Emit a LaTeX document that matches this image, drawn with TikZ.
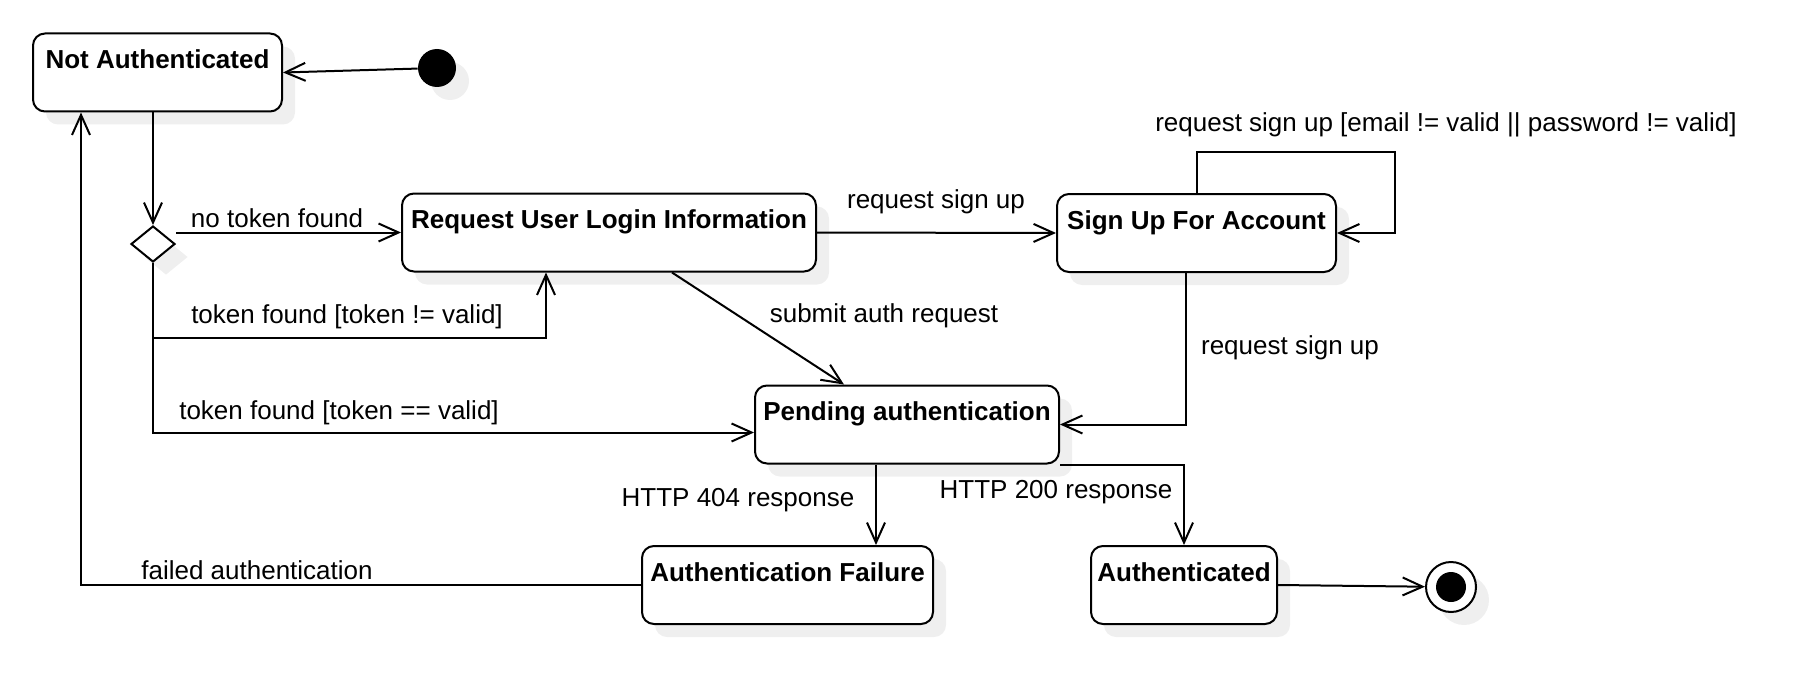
\documentclass[tikz,border=0pt]{standalone}
\usepackage{fontspec}
\setmainfont{Liberation Sans}
\usetikzlibrary{arrows.meta,positioning,calc,shapes.geometric,shadows}
\definecolor{shade}{HTML}{EFEFEF}

\begin{document}
\begin{tikzpicture}[x=0.5pt,y=-0.5pt,font=\fontsize{13}{15}\selectfont,
shd/.style={drop shadow={shadow xshift=6.5pt,shadow yshift=-6.5pt,fill=shade,opacity=1}},
state/.style={draw,line width=1pt,rounded corners=6pt,fill=white,shd,font=\fontsize{13}{15}\selectfont\bfseries,inner sep=0pt,text height=17.5pt,text depth=21.5pt},
choice/.style={diamond,draw,line width=1pt,fill=white,shd,minimum width=22pt,minimum height=18pt,inner sep=0pt},
init/.style={circle,fill=black,shd,minimum size=19pt,inner sep=0pt},
final/.style={circle,draw,line width=1pt,fill=white,shd,minimum size=25pt,inner sep=0pt},
arr/.style={-{Straight Barb[length=10pt,width=9pt]},line width=1pt},
lbl/.style={inner sep=0pt}]
\useasboundingbox (0,0) rectangle (1808,690);
% states
\node[state,minimum width=124.5pt] (na) at (157.5,72.5) {Not Authenticated};
\node[init] (start) at (437,68) {};
\node[choice] (dec) at (153,244) {};
\node[state,minimum width=207pt] (req) at (609,232.5) {Request User Login Information};
\node[state,minimum width=139.5pt] (sign) at (1196.5,233) {Sign Up For Account};
\node[state,minimum width=152pt] (pend) at (907,424.5) {Pending authentication};
\node[state,minimum width=145.5pt] (fail) at (787.5,585) {Authentication Failure};
\node[state,minimum width=93pt] (auth) at (1184,585) {Authenticated};
\node[final] (stop) at (1451,587) {};
\fill (stop.center) circle (7.5pt);
% helper points
\coordinate (tokbad) at (546,338);
\coordinate (p404) at ($(pend.south)+(-31,0)$);
% transitions
\draw[arr] (start) -- (na.east);
\draw[arr] (dec.north |- na.south) -- (dec.north);
\draw[arr] (dec.east |- req.west) -- (req.west);
\draw[arr] (dec.south) |- (tokbad) -- (tokbad |- req.south);
\draw[arr] (dec.south) |- ($(pend.west)+(0,8)$);
\draw[arr] ($(req.south west)+(271,0)$) -- ($(pend.north west)+(90,0)$);
\draw[arr] (req.east) -- (sign.west);
\draw[arr] (sign.north) -- ++(0,-41) -| ($(sign.east)+(58,0)$) -- (sign.east);
\draw[arr] ($(sign.south)+(-11,0)$) |- (pend.east);
\draw[arr] (p404) -- (p404 |- fail.north);
\draw[arr] (pend.south east) -| (auth.north);
\draw[arr] (fail.west) -| ($(na.south west)+(49,0)$);
\draw[arr] (auth.east) -- (stop);
% labels
\node[lbl] (lnotok) at (277,218) {no token found};
\node[lbl] (ltokbad) at (347,317) {token found [token != valid]};
\node[lbl] (ltokok) at (339,413) {token found [token == valid]};
\node[lbl] (lsubmit) at (884,316) {submit auth request};
\node[lbl] (lsign1) at (936,202) {request sign up};
\node[lbl] (lloop) at (1446,125) {request sign up [email != valid || password != valid]};
\node[lbl] (lsign2) at (1290,348) {request sign up};
\node[lbl] (l404) at (738,500) {HTTP 404 response};
\node[lbl] (l200) at (1056,492) {HTTP 200 response};
\node[lbl] (lfail) at (257,570) {failed authentication};
\end{tikzpicture}
\end{document}
